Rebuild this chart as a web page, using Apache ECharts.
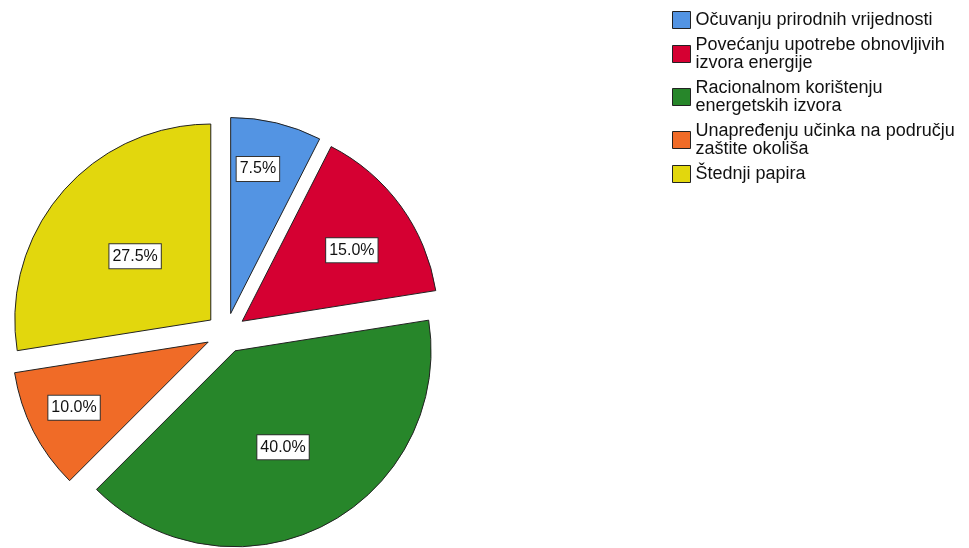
<!DOCTYPE html>
<html>
<head>
<meta charset="utf-8">
<script src="https://cdn.jsdelivr.net/npm/echarts@6/dist/echarts.min.js"></script>
<style>
  html, body { margin: 0; padding: 0; background: #fff; }
  #chart { width: 969px; height: 548px; }
</style>
</head>
<body>
<div id="chart"></div>
<script>
// ---- data ----
const categories = [
  'Očuvanju prirodnih vrijednosti',
  'Povećanju upotrebe obnovljivih\nizvora energije',
  'Racionalnom korištenju\nenergetskih izvora',
  'Unapređenju učinka na području\nzaštite okoliša',
  'Štednji papira'
];
const percentages = [7.5, 15.0, 40.0, 10.0, 27.5];

// ---- styles ----
const colors = ['#5394e3', '#d50032', '#27862a', '#f06b27', '#e2d70d'];
const PIE_R = 196;
// label placement (fraction of radius, direction in degrees clockwise from top)
const labelRadiusFrac = [0.75, 0.66, 0.52, 0.74, 0.50];
const labelAngleDeg = [10.4, 56.0, 152.8, 245.0, 311.5];
const LABEL_DY = 3;

const total = percentages.reduce((a, b) => a + b, 0);
const midAngles = [];
{
  let acc = 0;
  percentages.forEach(v => {
    midAngles.push((acc + v / 2) / total * 2 * Math.PI);
    acc += v;
  });
}

const chart = echarts.init(document.getElementById('chart'), null, { renderer: 'canvas' });
const option = {
  animation: false,
  color: colors,
  legend: {
    orient: 'vertical',
    left: 672,
    top: 11,
    padding: 0,
    itemWidth: 18,
    itemHeight: 17,
    itemGap: 7,
    icon: 'rect',
    selectedMode: false,
    itemStyle: { borderColor: '#222', borderWidth: 1 },
    textStyle: {
      fontFamily: 'Liberation Sans, Arial, sans-serif',
      fontSize: 18,
      lineHeight: 18,
      color: '#111'
    },
    data: categories
  },
  series: [{
    type: 'pie',
    center: [226, 333],
    radius: PIE_R,
    startAngle: 90,
    clockwise: true,
    selectedMode: 'multiple',
    selectedOffset: 20,
    avoidLabelOverlap: false,
    itemStyle: { borderColor: '#222', borderWidth: 1 },
    select: { itemStyle: { borderColor: '#222', borderWidth: 1 } },
    emphasis: { disabled: true },
    label: {
      show: true,
      position: 'inside',
      formatter: p => p.value.toFixed(1) + '%',
      fontFamily: 'Liberation Sans, Arial, sans-serif',
      fontSize: 16,
      lineHeight: 18,
      color: '#111',
      backgroundColor: '#fff',
      borderColor: '#333',
      borderWidth: 1,
      padding: [3, 3, 3, 3]
    },
    labelLine: { show: false },
    labelLayout: function (params) {
      const i = params.dataIndex;
      const a = labelAngleDeg[i] * Math.PI / 180;
      const f = labelRadiusFrac[i] * PIE_R;
      const h = 0.5 * PIE_R;
      return {
        dx: f * Math.sin(a) - h * Math.sin(midAngles[i]),
        dy: -f * Math.cos(a) + h * Math.cos(midAngles[i]) + LABEL_DY
      };
    },
    data: categories.map((name, i) => ({
      name: name,
      value: percentages[i],
      selected: true
    }))
  }]
};
chart.setOption(option);
</script>
</body>
</html>
